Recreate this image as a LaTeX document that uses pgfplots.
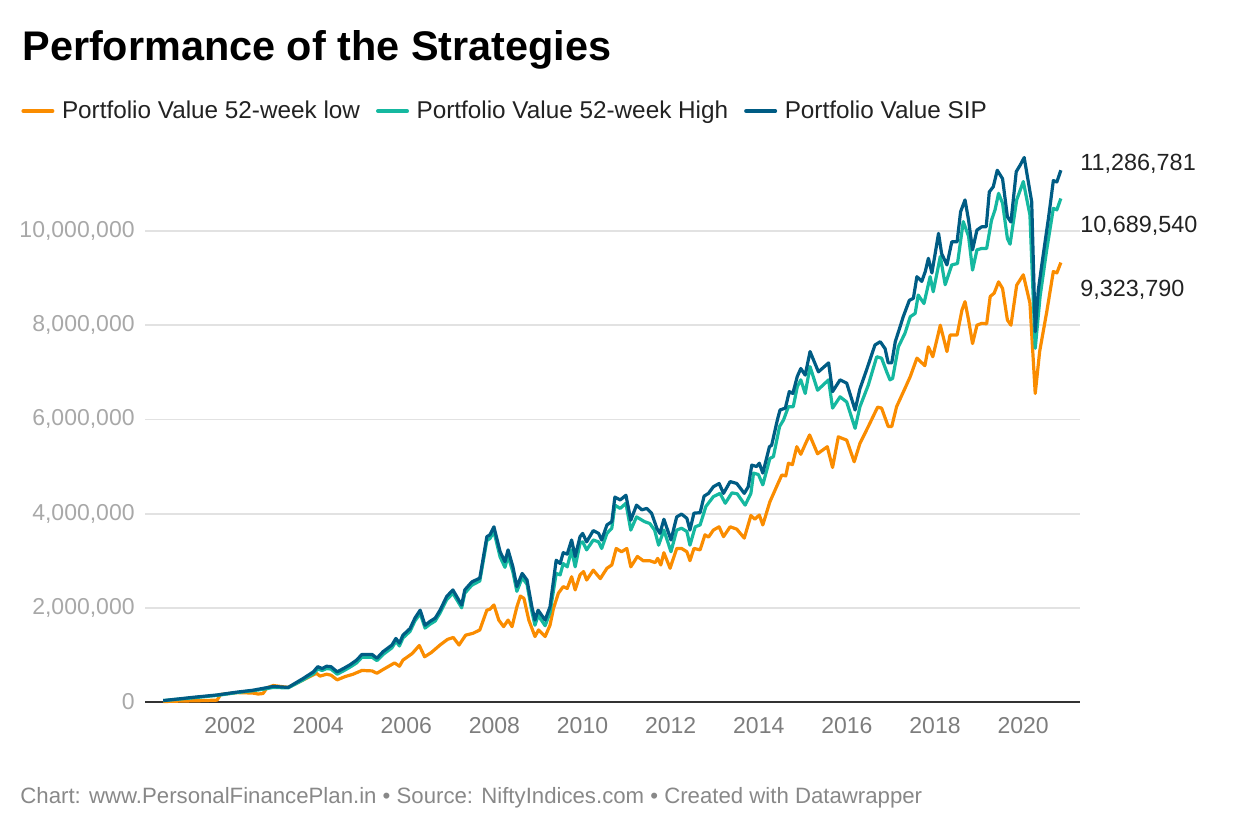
\documentclass[border=0pt]{standalone}
\usepackage{pgfplots}
\pgfplotsset{compat=1.18}
\usepackage{fontspec}
\setmainfont{Liberation Sans}
\definecolor{cLow}{RGB}{250,140,0}
\definecolor{cHigh}{RGB}{21,184,160}
\definecolor{cSIP}{RGB}{0,92,132}
\definecolor{ytl}{RGB}{168,168,168}
\definecolor{xtl}{RGB}{125,125,125}
\definecolor{foot}{RGB}{136,136,136}
\definecolor{gridc}{RGB}{226,226,226}
\definecolor{basec}{RGB}{51,51,51}
\definecolor{txt}{RGB}{34,34,34}
\begin{document}
\begin{tikzpicture}
\path[use as bounding box] (0,0) rectangle (620bp,-420bp);
\node[anchor=base west, inner sep=0pt, font=\fontsize{20.7bp}{24bp}\selectfont\bfseries] at (11bp,-30bp) {Performance of the Strategies};
\node[anchor=base west, inner sep=0pt, text=foot, font=\fontsize{11.1bp}{13bp}\selectfont] at (10bp,-401.5bp) {Chart: www.PersonalFinancePlan.in • Source: NiftyIndices.com • Created with Datawrapper};
\begin{axis}[
  at={(72.5bp,-351bp)}, anchor=south west,
  scale only axis, width=467.5bp, height=282.6bp,
  xmin=2000.07, xmax=2021.29, ymin=0, ymax=12,
  clip=false,
  axis line style={draw=none},
  major tick length=0pt,
  xtick={2002,2004,...,2020},
  xticklabels={2002,2004,2006,2008,2010,2012,2014,2016,2018,2020},
  ytick={2,4,6,8,10},
  yticklabels={{2,000,000},{4,000,000},{6,000,000},{8,000,000},{10,000,000}},
  extra y ticks={0}, extra y tick labels={0},
  extra y tick style={grid style={color=basec, line width=1.3bp}},
  ymajorgrids,
  grid style={color=gridc, line width=0.9bp},
  yticklabel style={anchor=east, inner sep=0pt, xshift=-5bp, text=ytl, font=\fontsize{11.5bp}{13bp}\selectfont},
  xticklabel style={anchor=north, inner sep=0pt, yshift=-7.5bp, text=xtl, font=\fontsize{11.5bp}{13bp}\selectfont},
  x filter/.expression={2002+((x-2002)*44.15-5)/44.06},
  every axis plot/.append style={line width=1.6bp, line join=round, no markers},
  legend columns=3,
  legend style={at={(axis description cs:-0.1326,1.0456)}, anchor=west, draw=none, fill=none, inner sep=0pt,
    font=\fontsize{12.15bp}{14bp}\selectfont, text=txt,
    /tikz/every odd column/.append style={column sep=1.8bp},
    /tikz/every even column/.append style={column sep=6bp}},
  legend image code/.code={\draw[#1, line width=2bp, line cap=round] (0bp,0bp) -- (14.5bp,0bp);},
]
\addplot[cLow] coordinates {
(2000.60,0.01)(2001.00,0.02)(2001.50,0.03)(2001.82,0.04)(2001.90,0.16)(2002.27,0.20)(2002.63,0.19)(2002.75,0.17)(2002.86,0.18)(2002.95,0.30)
(2003.09,0.35)(2003.43,0.31)(2003.77,0.47)(2004.07,0.61)(2004.15,0.55)(2004.30,0.59)(2004.40,0.57)(2004.54,0.47)(2004.72,0.54)(2004.90,0.59)
(2005.10,0.67)(2005.33,0.66)(2005.44,0.61)(2005.58,0.69)(2005.84,0.83)(2005.95,0.76)(2006.03,0.89)(2006.24,1.03)(2006.40,1.20)(2006.52,0.96)
(2006.67,1.05)(2006.87,1.21)(2007.04,1.33)(2007.17,1.37)(2007.30,1.21)(2007.45,1.42)(2007.62,1.46)(2007.77,1.53)(2007.93,1.95)(2008.00,1.97)
(2008.09,2.06)(2008.20,1.74)(2008.31,1.60)(2008.41,1.74)(2008.50,1.60)(2008.61,2.02)(2008.69,2.25)(2008.77,2.20)(2008.88,1.74)(2009.02,1.39)
(2009.10,1.53)(2009.25,1.39)(2009.36,1.63)(2009.44,1.99)(2009.55,2.31)(2009.66,2.45)(2009.75,2.41)(2009.85,2.66)(2009.93,2.38)(2010.04,2.70)
(2010.12,2.77)(2010.19,2.59)(2010.34,2.80)(2010.50,2.62)(2010.65,2.84)(2010.76,2.91)(2010.86,3.26)(2010.98,3.19)(2011.10,3.26)(2011.19,2.87)
(2011.34,3.09)(2011.47,3.00)(2011.62,3.00)(2011.74,2.96)(2011.80,3.05)(2011.87,2.91)(2011.94,3.17)(2012.08,2.84)(2012.23,3.26)(2012.34,3.26)
(2012.46,3.19)(2012.53,3.00)(2012.62,3.26)(2012.76,3.23)(2012.87,3.55)(2012.95,3.50)(2013.06,3.65)(2013.19,3.72)(2013.29,3.51)(2013.44,3.72)
(2013.59,3.67)(2013.76,3.48)(2013.91,3.96)(2014.00,3.88)(2014.10,3.97)(2014.18,3.76)(2014.34,4.25)(2014.51,4.61)(2014.61,4.82)(2014.70,4.80)
(2014.76,5.07)(2014.85,5.04)(2014.95,5.42)(2015.04,5.26)(2015.15,5.49)(2015.24,5.67)(2015.42,5.27)(2015.64,5.42)(2015.76,4.98)(2015.89,5.63)
(2016.08,5.56)(2016.25,5.10)(2016.38,5.49)(2016.57,5.85)(2016.78,6.26)(2016.87,6.24)(2017.02,5.85)(2017.10,5.85)(2017.21,6.27)(2017.40,6.66)
(2017.52,6.91)(2017.67,7.30)(2017.85,7.14)(2017.93,7.54)(2018.03,7.33)(2018.20,8.00)(2018.35,7.44)(2018.42,7.79)(2018.58,7.79)(2018.69,8.32)
(2018.76,8.50)(2018.84,8.11)(2018.93,7.61)(2019.03,8.00)(2019.14,8.04)(2019.25,8.03)(2019.33,8.61)(2019.42,8.68)(2019.52,8.92)(2019.61,8.78)
(2019.72,8.11)(2019.80,8.00)(2019.93,8.85)(2020.08,9.07)(2020.23,8.47)(2020.35,6.55)(2020.45,7.44)(2020.61,8.28)(2020.76,9.14)(2020.84,9.11)
(2020.93,9.33)
};
\addlegendentry{Portfolio Value 52-week low}
\addplot[cHigh] coordinates {
(2000.60,0.03)(2001.28,0.09)(2001.82,0.14)(2002.27,0.20)(2002.63,0.24)(2002.86,0.27)(2003.09,0.31)(2003.43,0.30)(2003.77,0.47)(2004.00,0.60)
(2004.10,0.70)(2004.20,0.67)(2004.30,0.71)(2004.40,0.70)(2004.54,0.59)(2004.68,0.66)(2004.83,0.74)(2004.98,0.83)(2005.10,0.95)(2005.33,0.95)
(2005.44,0.88)(2005.58,1.01)(2005.78,1.15)(2005.87,1.29)(2005.95,1.19)(2006.03,1.36)(2006.19,1.50)(2006.30,1.72)(2006.42,1.88)(2006.53,1.57)
(2006.64,1.65)(2006.76,1.72)(2006.87,1.89)(2007.02,2.17)(2007.16,2.31)(2007.36,2.00)(2007.43,2.31)(2007.59,2.48)(2007.77,2.57)(2007.93,3.43)
(2008.00,3.47)(2008.09,3.62)(2008.23,3.08)(2008.34,2.86)(2008.41,3.10)(2008.52,2.76)(2008.61,2.35)(2008.73,2.64)(2008.84,2.50)(2008.95,1.92)
(2009.02,1.63)(2009.09,1.84)(2009.25,1.62)(2009.36,1.90)(2009.50,2.73)(2009.59,2.70)(2009.66,2.94)(2009.75,2.87)(2009.85,3.23)(2009.93,2.87)
(2010.04,3.37)(2010.10,3.40)(2010.19,3.23)(2010.34,3.44)(2010.46,3.40)(2010.53,3.26)(2010.65,3.58)(2010.76,3.69)(2010.83,4.18)(2010.95,4.11)
(2011.08,4.22)(2011.19,3.65)(2011.32,3.93)(2011.50,3.83)(2011.62,3.79)(2011.73,3.65)(2011.82,3.33)(2011.94,3.65)(2012.10,3.19)(2012.23,3.65)
(2012.34,3.69)(2012.46,3.62)(2012.53,3.33)(2012.65,3.72)(2012.76,3.76)(2012.89,4.15)(2013.06,4.36)(2013.21,4.43)(2013.33,4.22)(2013.48,4.44)
(2013.60,4.42)(2013.78,4.18)(2013.91,4.43)(2013.97,4.86)(2014.08,4.83)(2014.18,4.61)(2014.34,5.17)(2014.42,5.21)(2014.56,5.85)(2014.65,5.99)
(2014.76,6.27)(2014.87,6.27)(2014.96,6.69)(2015.04,6.84)(2015.14,6.55)(2015.25,7.12)(2015.42,6.62)(2015.67,6.84)(2015.76,6.24)(2015.93,6.48)
(2016.08,6.37)(2016.27,5.81)(2016.38,6.27)(2016.57,6.73)(2016.76,7.33)(2016.87,7.30)(2016.99,7.00)(2017.06,6.84)(2017.12,6.87)(2017.25,7.54)
(2017.40,7.83)(2017.52,8.18)(2017.63,8.25)(2017.70,8.64)(2017.83,8.46)(2017.97,9.03)(2018.04,8.71)(2018.20,9.46)(2018.31,8.86)(2018.46,9.28)
(2018.59,9.31)(2018.72,10.20)(2018.84,9.89)(2018.93,9.17)(2019.03,9.60)(2019.14,9.63)(2019.25,9.63)(2019.36,10.23)(2019.44,10.45)(2019.52,10.80)
(2019.61,10.59)(2019.72,9.84)(2019.78,9.72)(2019.93,10.66)(2020.08,11.05)(2020.23,10.34)(2020.35,7.51)(2020.46,8.61)(2020.61,9.60)(2020.76,10.48)
(2020.84,10.45)(2020.93,10.69)
};
\addlegendentry{Portfolio Value 52-week High}
\addplot[cSIP] coordinates {
(2000.60,0.03)(2001.28,0.10)(2001.82,0.15)(2002.27,0.21)(2002.63,0.25)(2002.86,0.29)(2003.09,0.33)(2003.43,0.31)(2003.77,0.50)(2004.00,0.64)
(2004.10,0.75)(2004.20,0.71)(2004.30,0.76)(2004.40,0.75)(2004.54,0.64)(2004.68,0.71)(2004.83,0.79)(2004.98,0.89)(2005.10,1.01)(2005.33,1.01)
(2005.44,0.93)(2005.58,1.07)(2005.78,1.21)(2005.87,1.35)(2005.95,1.25)(2006.03,1.42)(2006.19,1.56)(2006.30,1.78)(2006.42,1.95)(2006.53,1.63)
(2006.64,1.71)(2006.76,1.78)(2006.87,1.95)(2007.02,2.24)(2007.16,2.38)(2007.36,2.06)(2007.43,2.38)(2007.59,2.55)(2007.77,2.63)(2007.93,3.51)
(2008.00,3.55)(2008.09,3.72)(2008.23,3.19)(2008.34,2.98)(2008.41,3.23)(2008.52,2.87)(2008.61,2.45)(2008.73,2.73)(2008.84,2.59)(2008.95,2.02)
(2009.02,1.74)(2009.09,1.95)(2009.25,1.74)(2009.36,2.02)(2009.50,3.01)(2009.59,2.94)(2009.66,3.17)(2009.75,3.14)(2009.85,3.44)(2009.93,3.09)
(2010.04,3.51)(2010.10,3.58)(2010.19,3.40)(2010.34,3.64)(2010.46,3.58)(2010.53,3.44)(2010.65,3.76)(2010.76,3.83)(2010.83,4.35)(2010.95,4.29)
(2011.08,4.39)(2011.19,3.86)(2011.32,4.18)(2011.44,4.08)(2011.55,4.11)(2011.66,4.01)(2011.78,3.69)(2011.85,3.58)(2011.94,3.88)(2012.10,3.44)
(2012.23,3.93)(2012.34,3.99)(2012.46,3.90)(2012.53,3.65)(2012.62,4.01)(2012.76,4.02)(2012.85,4.37)(2012.95,4.43)(2013.06,4.57)(2013.19,4.64)
(2013.29,4.43)(2013.44,4.68)(2013.59,4.64)(2013.76,4.43)(2013.85,4.57)(2013.93,5.03)(2014.04,5.00)(2014.10,5.07)(2014.18,4.86)(2014.33,5.42)
(2014.38,5.45)(2014.51,5.99)(2014.57,6.20)(2014.69,6.24)(2014.78,6.59)(2014.86,6.55)(2014.96,6.91)(2015.04,7.08)(2015.14,6.94)(2015.25,7.44)
(2015.44,7.01)(2015.67,7.20)(2015.76,6.59)(2015.93,6.84)(2016.08,6.77)(2016.27,6.20)(2016.38,6.65)(2016.53,7.05)(2016.72,7.58)(2016.84,7.65)
(2016.95,7.50)(2017.02,7.20)(2017.10,7.20)(2017.18,7.65)(2017.29,7.97)(2017.36,8.18)(2017.50,8.53)(2017.59,8.57)(2017.67,9.03)(2017.78,8.93)
(2017.86,9.14)(2017.93,9.42)(2018.01,9.11)(2018.16,9.95)(2018.23,9.52)(2018.35,9.28)(2018.46,9.77)(2018.58,9.77)(2018.66,10.41)(2018.76,10.66)
(2018.84,10.23)(2018.93,9.60)(2019.03,10.02)(2019.14,10.09)(2019.24,10.09)(2019.31,10.83)(2019.40,10.94)(2019.49,11.29)(2019.61,11.11)(2019.72,10.30)
(2019.80,10.19)(2019.92,11.26)(2020.01,11.40)(2020.10,11.56)(2020.27,10.62)(2020.35,7.86)(2020.42,8.75)(2020.53,9.49)(2020.65,10.27)(2020.76,11.07)
(2020.84,11.04)(2020.93,11.29)
};
\addlegendentry{Portfolio Value SIP}
\node[anchor=base west, inner sep=0pt, text=txt, font=\fontsize{11.7bp}{14bp}\selectfont] at (axis cs:2021.29,11.295) {11,286,781};
\node[anchor=base west, inner sep=0pt, text=txt, font=\fontsize{11.7bp}{14bp}\selectfont] at (axis cs:2021.29,9.958) {10,689,540};
\node[anchor=base west, inner sep=0pt, text=txt, font=\fontsize{11.7bp}{14bp}\selectfont] at (axis cs:2021.29,8.605) {9,323,790};
\end{axis}
\end{tikzpicture}
\end{document}
